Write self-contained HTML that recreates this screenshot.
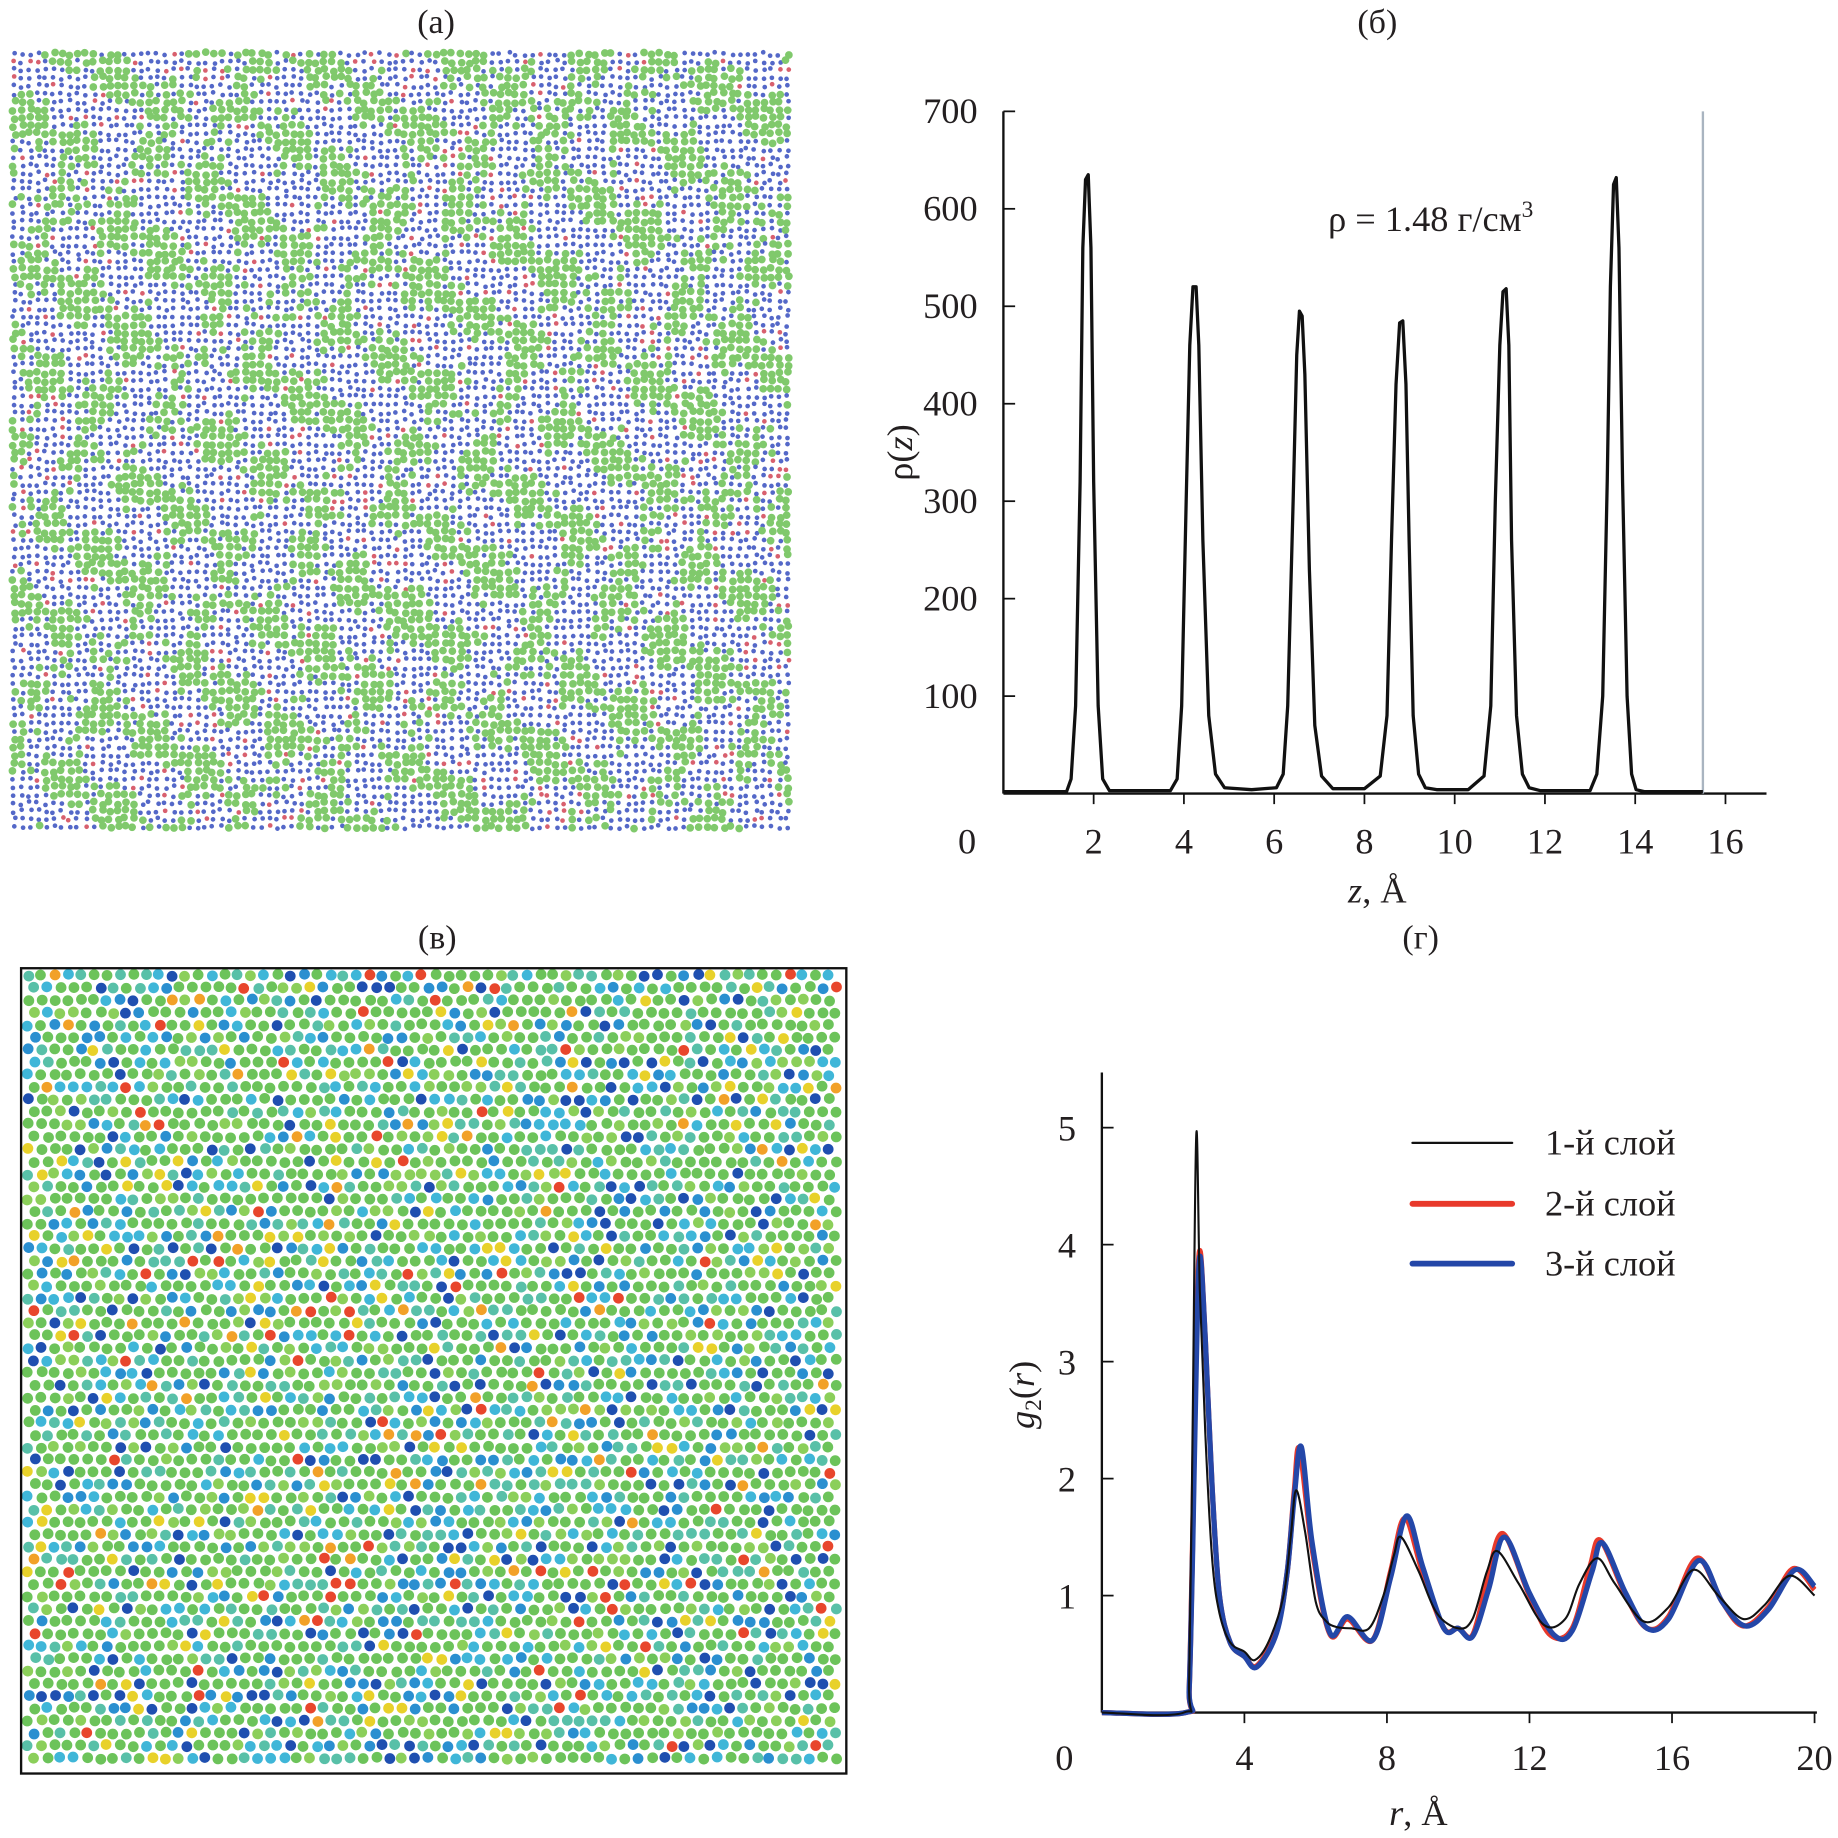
<!DOCTYPE html>
<html><head><meta charset="utf-8">
<style>
html,body{margin:0;padding:0;background:#fff;}
svg{display:block;font-family:"Liberation Serif",serif;}
</style></head>
<body>
<svg id="fig" width="1838" height="1838" viewBox="0 0 1568 1568" xmlns="http://www.w3.org/2000/svg">
<rect width="1568" height="1568" fill="#fff"/>
<g font-size="29" fill="#231f20" text-anchor="middle">
<text x="372" y="28">(а)</text>
<text x="1175" y="28">(б)</text>
<text x="373" y="809">(в)</text>
<text x="1212" y="809">(г)</text>
</g>
<g id="panelA"></g>
<g id="panelC"></g>
<rect x="18" y="826" width="704" height="687" fill="none" stroke="#111" stroke-width="2"/>
<g id="chartB"></g>
<g id="chartD"></g>
</svg>
<script>
const NS="http://www.w3.org/2000/svg";
// ---- chart (б) data ----
const zVals=[0,1.4,1.5,1.6,1.7,1.76,1.82,1.88,1.94,2.0,2.1,2.2,2.35,3.7,3.85,3.95,4.05,4.13,4.2,4.27,4.33,4.42,4.55,4.7,4.9,5.5,6.05,6.2,6.3,6.42,6.5,6.56,6.62,6.68,6.78,6.9,7.05,7.3,8.0,8.35,8.5,8.6,8.7,8.78,8.85,8.92,8.99,9.08,9.2,9.35,9.6,10.3,10.65,10.8,10.9,11.0,11.07,11.14,11.2,11.26,11.37,11.5,11.65,11.9,13.0,13.15,13.28,13.38,13.45,13.52,13.58,13.64,13.72,13.82,13.92,14.02,14.2,15.5];
const rhoVals=[2,2,15,90,320,560,630,635,560,320,90,15,3,3,15,90,300,460,520,520,460,260,80,20,6,4,6,20,90,300,450,495,490,430,230,70,18,5,5,18,80,260,420,483,485,420,260,80,20,6,4,4,18,90,300,460,515,518,460,260,80,20,6,3,3,20,100,320,520,625,632,560,320,100,20,4,2,2];
const zTicks=[2,4,6,8,10,12,14,16];
const rhoTicks=[100,200,300,400,500,600,700];
const wallZ=15.5;
// ---- chart (г) data ----
const rBlack=[0,2.3,2.45,2.55,2.65,2.75,2.9,3.1,3.3,3.6,4.0,4.3,4.7,5.1,5.3,5.45,5.7,6.0,6.3,6.6,7.0,7.5,7.9,8.2,8.4,8.9,9.4,10.0,10.4,10.8,11.1,11.7,12.4,13.0,13.4,13.9,14.4,15.2,15.9,16.6,17.3,18.0,18.6,19.3,20];
const gBlack=[0,0,0.3,2.5,4.95,3.6,2.4,1.3,0.85,0.6,0.52,0.45,0.62,1.0,1.5,1.9,1.55,0.95,0.78,0.73,0.72,0.72,1.0,1.35,1.5,1.2,0.85,0.72,0.8,1.2,1.38,1.1,0.75,0.8,1.1,1.32,1.1,0.78,0.9,1.22,1.0,0.8,0.92,1.17,1.0];
const rRed=[0,2.35,2.45,2.55,2.65,2.75,2.9,3.1,3.3,3.6,4.0,4.35,4.9,5.2,5.4,5.55,5.9,6.4,6.9,7.6,8.1,8.5,9.0,9.6,10.0,10.4,10.8,11.25,12.0,12.6,13.2,13.7,14.0,14.7,15.3,15.9,16.7,17.4,18.0,18.7,19.4,20];
const gRed=[0,0,0.2,1.5,3.2,3.95,3.2,1.9,1.0,0.6,0.48,0.4,0.7,1.2,1.9,2.25,1.4,0.67,0.8,0.62,1.2,1.66,1.2,0.72,0.72,0.66,1.1,1.53,1.0,0.66,0.72,1.25,1.47,1.0,0.72,0.82,1.32,0.95,0.74,0.9,1.23,1.05];
const rBlue=[0,2.35,2.45,2.55,2.65,2.75,2.9,3.1,3.3,3.6,4.0,4.35,4.9,5.2,5.4,5.6,5.9,6.4,6.9,7.6,8.1,8.55,9.0,9.6,10.0,10.4,10.85,11.3,12.0,12.7,13.2,13.75,14.05,14.7,15.3,15.9,16.75,17.4,18.05,18.7,19.45,20];
const gBlue=[0,0,0.2,1.4,3.0,3.9,3.2,1.9,1.0,0.6,0.48,0.39,0.68,1.2,1.85,2.27,1.45,0.68,0.82,0.62,1.15,1.68,1.25,0.72,0.72,0.65,1.05,1.5,1.02,0.66,0.7,1.2,1.45,1.02,0.72,0.8,1.3,0.95,0.74,0.88,1.22,1.08];
const rTicks=[4,8,12,16,20];
const gTicks=[1,2,3,4,5];

function el(tag,attrs,parent){const e=document.createElementNS(NS,tag);for(const k in attrs)e.setAttribute(k,attrs[k]);parent.appendChild(e);return e;}
function txt(s,x,y,size,parent,anchor){const t=el('text',{x:x,y:y,'font-size':size,fill:'#231f20','text-anchor':anchor||'middle'},parent);t.textContent=s;return t;}

// ---- chart б ----
(function(){
const g=document.getElementById('chartB');
const X=z=>856+38.5*z, Y=v=>677-v*(582/700);
let a=el('line',{x1:856,y1:95,x2:856,y2:677,stroke:'#111','stroke-width':2},g);

a=el('line',{x1:856,y1:677,x2:1507,y2:677,stroke:'#111','stroke-width':2},g);

rhoTicks.forEach(v=>{el('line',{x1:856,y1:Y(v),x2:866,y2:Y(v),stroke:'#111','stroke-width':1.5},g);
 const t=txt(String(v),834,Y(v)+10,31,g,'end');});
zTicks.forEach(v=>{el('line',{x1:X(v),y1:677,x2:X(v),y2:686,stroke:'#111','stroke-width':1.5},g);
 const t=txt(String(v),X(v),728,31,g);});
txt('0',825,728,31,g);
const w=el('line',{x1:X(wallZ),y1:95,x2:X(wallZ),y2:677,stroke:'#a9b4c0','stroke-width':2},g);

const p=el('polyline',{points:zVals.map((z,i)=>X(z)+','+Y(rhoVals[i])).join(' '),fill:'none',stroke:'#111','stroke-width':2.8,'stroke-linejoin':'round'},g);

const yl=el('text',{x:0,y:0,'font-size':31,fill:'#231f20','text-anchor':'middle',transform:'translate(778,386) rotate(-90)'},g);
yl.innerHTML='ρ(<tspan font-style="italic">z</tspan>)';
const xl=el('text',{x:1175,y:770,'font-size':31,fill:'#231f20','text-anchor':'middle'},g);
xl.innerHTML='<tspan font-style="italic">z</tspan>, Å';
const an=el('text',{x:1133,y:197,'font-size':31,fill:'#231f20'},g);
an.innerHTML='ρ = 1.48 г/см<tspan font-size="20" dy="-12">3</tspan>';
})();

// ---- chart г ----
(function(){
const g=document.getElementById('chartD');
const X=r=>940+30.4*r, Y=v=>1461-99.8*v;
let a=el('line',{x1:940,y1:915,x2:940,y2:1461,stroke:'#111','stroke-width':2},g);

a=el('line',{x1:940,y1:1461,x2:1550,y2:1461,stroke:'#111','stroke-width':2},g);

gTicks.forEach(v=>{el('line',{x1:940,y1:Y(v),x2:950,y2:Y(v),stroke:'#111','stroke-width':1.5},g);
 const t=txt(String(v),918,Y(v)+11,31,g,'end');});
rTicks.forEach(v=>{el('line',{x1:X(v),y1:1461,x2:X(v),y2:1470,stroke:'#111','stroke-width':1.5},g);
 const t=txt(String(v),X(v),1510,31,g);});
txt('0',908,1510,31,g);
function smooth(xs,ys){const P=xs.map((x,i)=>[X(x),Y(ys[i])]);let d='M'+P[0][0]+','+P[0][1];
 for(let i=0;i<P.length-1;i++){const p0=P[Math.max(0,i-1)],p1=P[i],p2=P[i+1],p3=P[Math.min(P.length-1,i+2)];
 const c1=[p1[0]+(p2[0]-p0[0])/6,p1[1]+(p2[1]-p0[1])/6],c2=[p2[0]-(p3[0]-p1[0])/6,p2[1]-(p3[1]-p1[1])/6];
 d+=' C'+c1[0].toFixed(1)+','+c1[1].toFixed(1)+' '+c2[0].toFixed(1)+','+c2[1].toFixed(1)+' '+p2[0].toFixed(1)+','+p2[1].toFixed(1);}return d;}
let c=el('path',{d:smooth(rRed,gRed),fill:'none',stroke:'#e8392b','stroke-width':4.5},g);

c=el('path',{d:smooth(rBlue,gBlue),fill:'none',stroke:'#2447a8','stroke-width':4.5},g);

c=el('path',{d:smooth(rBlack,gBlack),fill:'none',stroke:'#111','stroke-width':1.8},g);

const leg=[['1-й слой','#111',2,975],['2-й слой','#e8392b',5,1027],['3-й слой','#2447a8',5,1078]];
leg.forEach(l=>{const ln=el('line',{x1:1205,y1:l[3],x2:1290,y2:l[3],stroke:l[1],'stroke-width':l[2],'stroke-linecap':'round'},g);
 
 const t=txt(l[0],1318,l[3]+10,31,g,'start');});
const yl=el('text',{x:0,y:0,'font-size':31,fill:'#231f20','text-anchor':'middle',transform:'translate(882,1190) rotate(-90)'},g);
yl.innerHTML='<tspan font-style="italic">g</tspan><tspan font-size="20" dy="6">2</tspan><tspan dy="-6">(</tspan><tspan font-style="italic">r</tspan>)';

const xl=el('text',{x:1210,y:1557,'font-size':31,fill:'#231f20','text-anchor':'middle'},g);
xl.innerHTML='<tspan font-style="italic">r</tspan>, Å';
})();

// ---- textures ----
let seed=12345;function rnd(){seed=(seed*1103515245+12345)%2147483648;return seed/2147483648;}
(function(){
const g=document.getElementById('panelA');let s='';
for(let y=46;y<706;y+=6.8){for(let x=12;x<672;x+=6.8){
 const px=x+(rnd()-0.5)*3,py=y+(rnd()-0.5)*3;
 const f=Math.sin(px*0.11+py*0.05)+Math.sin(py*0.09-px*0.04)+Math.sin((px-py)*0.06)+(rnd()-0.5)*2.6;
 if(f>0.35){s+=`<circle cx="${px.toFixed(1)}" cy="${py.toFixed(1)}" r="3.3" fill="#80c96c"/>`;}
 else{const red=rnd()<0.1;s+=`<circle cx="${px.toFixed(1)}" cy="${py.toFixed(1)}" r="2.0" fill="${red?'#d8606e':'#5468c8'}"/>`;}
}}
g.innerHTML=s;
})();
(function(){
const g=document.getElementById('panelC');let s='';
const cols=['#6cc35a','#6cc35a','#6cc35a','#8bcf5a','#58c0a8','#3fb6d8','#2a8fd0','#1f4fb0','#e8d12a','#f2a128','#e8462c'];
const wts=[0.22,0.14,0.1,0.1,0.12,0.11,0.07,0.06,0.04,0.02,0.02];
let row=0;
for(let y=832;y<1510;y+=10.6,row++){for(let x=24+(row%2)*5.5;x<718;x+=11.2){
 const px=x+(rnd()-0.5)*2,py=y+(rnd()-0.5)*2;let u=rnd(),k=0;while(k<wts.length-1&&u>wts[k]){u-=wts[k];k++;}
 s+=`<circle cx="${px.toFixed(1)}" cy="${py.toFixed(1)}" r="4.6" fill="${cols[k]}"/>`;
}}
g.innerHTML=s;
})();
</script>
</body></html>
